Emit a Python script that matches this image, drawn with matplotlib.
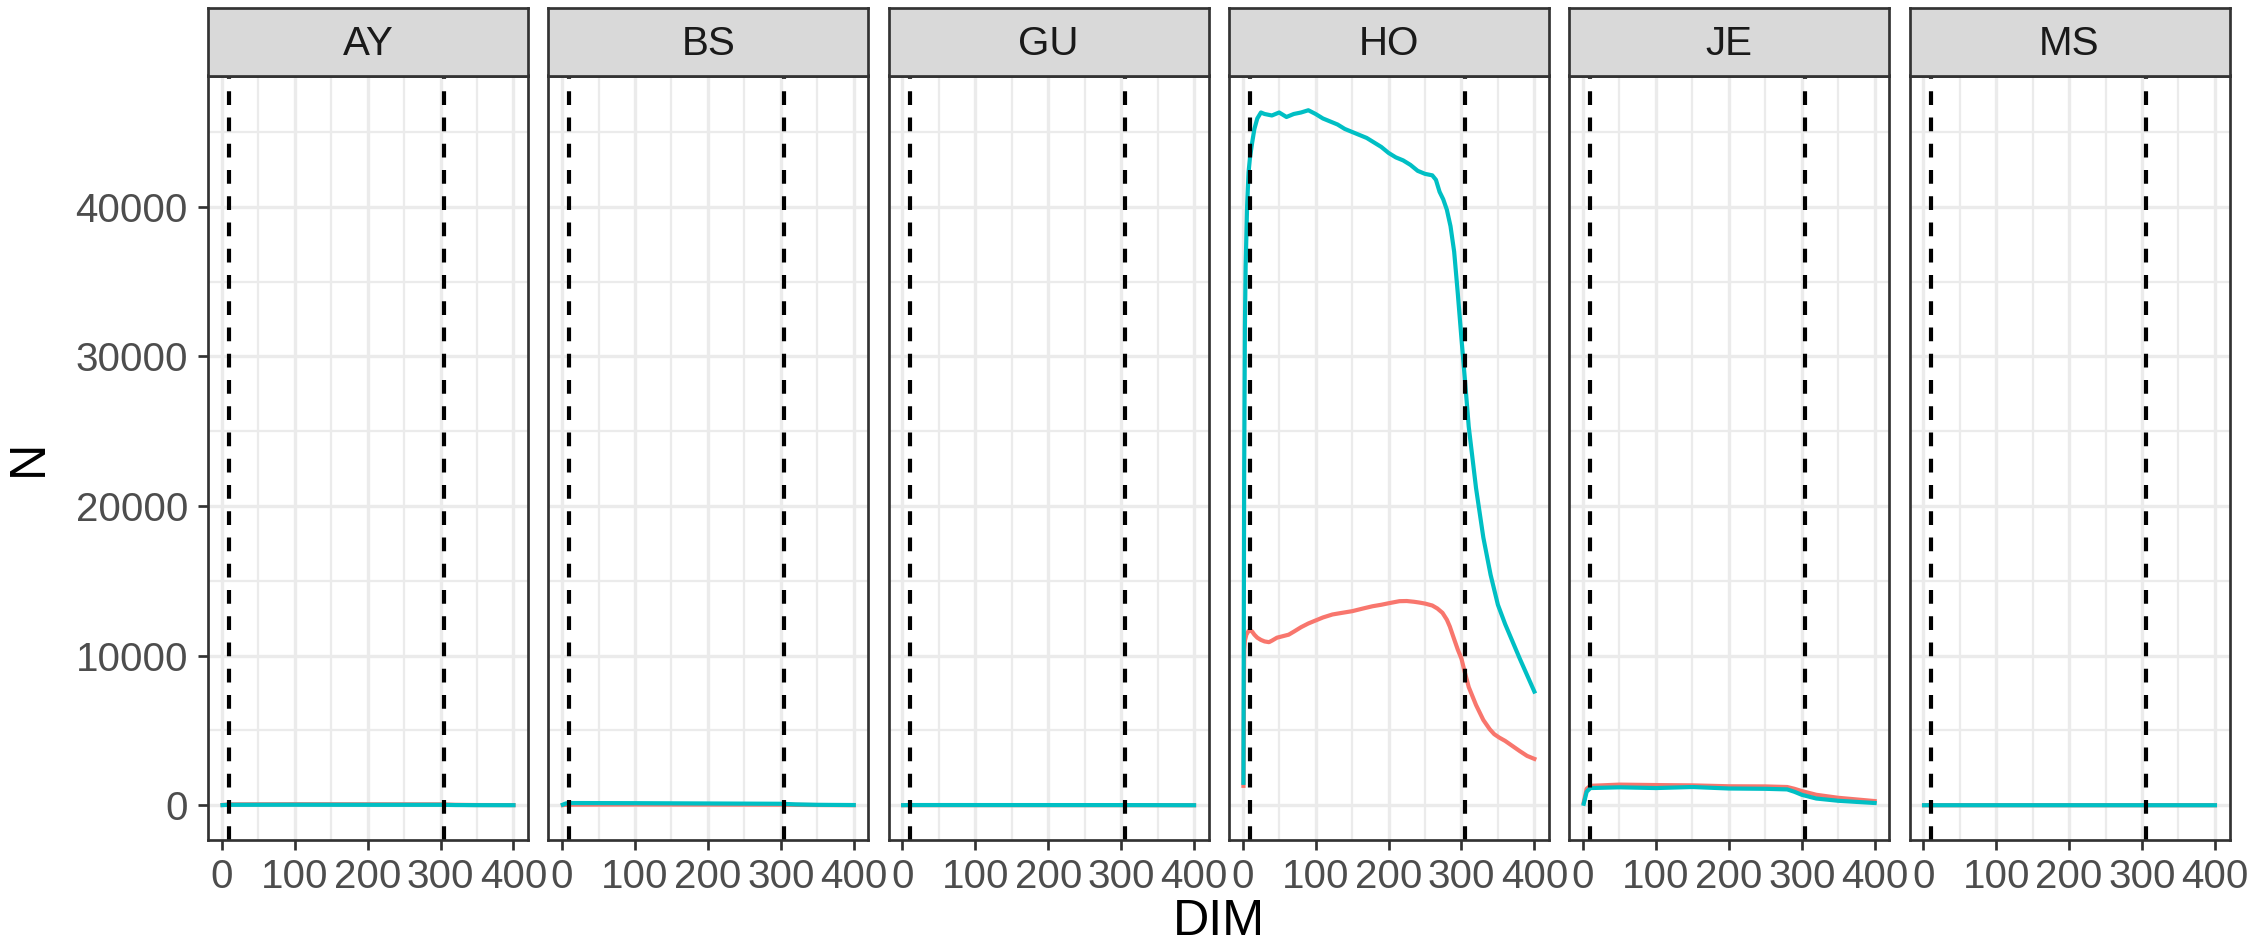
import numpy as np
import matplotlib
matplotlib.use("Agg")
import matplotlib.pyplot as plt

plt.rcParams["font.family"] = ["Liberation Sans", "DejaVu Sans"]

# facets, left to right
panels = ["AY", "BS", "GU", "HO", "JE", "MS"]
vlines = [10, 305]
red_col, teal_col = "#F8766D", "#00BFC4"

# --- values (DIM -> N) ---
ay_x = [1, 10, 100, 200, 300, 320, 350, 400]
ay_red = [20, 60, 70, 65, 60, 30, 15, 10]
ay_teal = [10, 30, 35, 30, 30, 15, 8, 5]

bs_x = [1, 5, 10, 100, 200, 300, 320, 350, 400]
bs_red = [10, 30, 40, 50, 45, 40, 25, 15, 5]
bs_teal = [40, 120, 150, 140, 120, 100, 60, 30, 15]

gu_x = [1, 10, 300, 400]
gu_red = [3, 8, 6, 2]
gu_teal = [5, 15, 12, 3]

ho_teal_x = [1, 2, 3, 4, 6, 8, 10, 13, 16, 20, 25, 30, 40, 50, 60, 70, 80, 90,
             100, 110, 120, 130, 140, 150, 160, 170, 180, 190, 200, 210, 220,
             230, 240, 250, 260, 265, 270, 275, 280, 285, 290, 295, 300, 305,
             310, 320, 330, 340, 350, 360, 370, 380, 390, 400]
ho_teal = [1500, 22000, 32000, 36000, 40000, 42300, 43300, 44300, 45200, 45900,
           46300, 46200, 46100, 46300, 46000, 46200, 46300, 46450, 46200, 45900,
           45700, 45500, 45200, 45000, 44800, 44600, 44300, 44000, 43600, 43300,
           43100, 42800, 42400, 42200, 42100, 41800, 41000, 40500, 39800, 38700,
           37000, 34200, 31200, 28300, 25300, 21200, 17900, 15400, 13400, 12100,
           10950, 9800, 8700, 7600]
ho_red_x = [1, 2, 3, 5, 8, 10, 13, 16, 20, 25, 30, 36, 40, 47, 55, 63, 70, 80,
            90, 100, 110, 123, 135, 150, 165, 178, 190, 200, 215, 225, 235, 242,
            250, 260, 267, 274, 280, 284, 290, 295, 300, 304, 310, 320, 330, 339,
            345, 352, 360, 370, 380, 390, 400]
ho_red = [1300, 10400, 11000, 11400, 11650, 11700, 11600, 11400, 11200, 11050,
          10950, 10900, 11000, 11200, 11300, 11400, 11600, 11900, 12150, 12350,
          12550, 12750, 12850, 12970, 13150, 13300, 13400, 13500, 13640, 13650,
          13600, 13550, 13480, 13350, 13150, 12860, 12400, 11950, 11100, 10400,
          9800, 9000, 7900, 6700, 5700, 5070, 4750, 4520, 4300, 3960, 3620, 3300,
          3100]

je_x = [1, 5, 10, 50, 100, 150, 200, 250, 280, 290, 300, 320, 350, 400]
je_red = [200, 1100, 1300, 1380, 1350, 1330, 1270, 1260, 1220, 1100, 950, 700,
          500, 280]
je_teal = [100, 900, 1150, 1200, 1150, 1220, 1120, 1100, 1060, 900, 700, 450,
           300, 150]

ms_x = [1, 10, 300, 400]
ms_red = [1, 2, 2, 1]
ms_teal = [2, 3, 3, 2]

series = {
    "AY": [(ay_x, ay_red), (ay_x, ay_teal)],
    "BS": [(bs_x, bs_red), (bs_x, bs_teal)],
    "GU": [(gu_x, gu_red), (gu_x, gu_teal)],
    "HO": [(ho_red_x, ho_red), (ho_teal_x, ho_teal)],
    "JE": [(je_x, je_red), (je_x, je_teal)],
    "MS": [(ms_x, ms_red), (ms_x, ms_teal)],
}

W, H = 2261, 946
LW = 1.0       # data / vline width
FRAME = 0.65   # borders, ticks
TXT = 9.7      # tick + strip labels
TITLE = 12.1   # axis titles


def box(x0, y0, x1, y1):
    return [x0 / W, 1 - y1 / H, (x1 - x0) / W, (y1 - y0) / H]


# shared scales with ggplot's 5% expansion
allx = np.concatenate([np.asarray(s[0]) for v in series.values() for s in v])
ally = np.concatenate([np.asarray(s[1]) for v in series.values() for s in v])
xr = allx.max() - allx.min()
yr = ally.max() - ally.min()
xlim = (allx.min() - 0.05 * xr, allx.max() + 0.05 * xr)
ylim = (ally.min() - 0.05 * yr, ally.max() + 0.05 * yr)

fig = plt.figure(figsize=(W / 300, H / 300), dpi=300)

for i, name in enumerate(panels):
    x0 = 208 + i * 340.3
    x1 = x0 + 320
    ax = fig.add_axes(box(x0, 75.5, x1, 840))
    for (xs, ys), col in zip(series[name], [red_col, teal_col]):
        ax.plot(xs, ys, color=col, lw=LW, solid_joinstyle="round", zorder=2)
    for v in vlines:
        ax.axvline(v, color="black", lw=LW, ls=(0, (3.3, 3.0)), zorder=3)
    ax.set_xlim(xlim)
    ax.set_ylim(ylim)
    ax.set_xticks([0, 100, 200, 300, 400])
    ax.set_xticks([50, 150, 250, 350], minor=True)
    ax.set_yticks([0, 10000, 20000, 30000, 40000])
    ax.set_yticks([5000, 15000, 25000, 35000, 45000], minor=True)
    ax.grid(True, which="major", color="#EBEBEB", lw=0.8)
    ax.grid(True, which="minor", color="#EBEBEB", lw=0.55)
    ax.set_axisbelow(True)
    for sp in ax.spines.values():
        sp.set_color("#333333")
        sp.set_linewidth(FRAME)
        sp.set_zorder(4)
    ax.tick_params(which="major", length=2.4, width=FRAME, color="#333333",
                   labelsize=TXT, labelcolor="#4D4D4D", pad=2.4)
    ax.tick_params(axis="x", which="major", pad=1.8)
    ax.tick_params(which="minor", length=0)
    if i > 0:
        ax.tick_params(axis="y", left=False, labelleft=False)

    sax = fig.add_axes(box(x0, 8.3, x1, 75.5))
    sax.set_facecolor("#D9D9D9")
    sax.set_xticks([])
    sax.set_yticks([])
    for sp in sax.spines.values():
        sp.set_color("#333333")
        sp.set_linewidth(FRAME)
    sax.text(0.5, 0.47, name, ha="center", va="center", fontsize=TXT,
             color="#1A1A1A", transform=sax.transAxes)

fig.text(29 / W, 1 - 458 / H, "N", rotation=90, ha="center", va="center",
         fontsize=TITLE, color="black")
fig.text(1218.7 / W, 1 - 922 / H, "DIM", ha="center", va="center",
         fontsize=TITLE, color="black")

fig.savefig("out.png", dpi=300)
